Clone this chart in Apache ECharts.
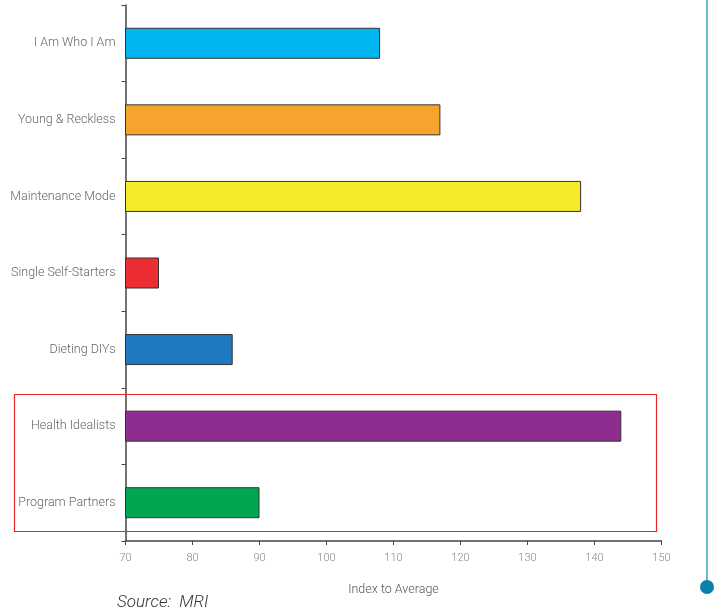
<!DOCTYPE html>
<html>
<head>
<meta charset="utf-8">
<script src="https://cdn.jsdelivr.net/npm/echarts@6/dist/echarts.min.js"></script>
<style>html,body{margin:0;padding:0;background:#fff}#c{width:721px;height:616px}</style>
</head>
<body>
<div id="c"></div>
<script>
const categories = ["I Am Who I Am", "Young & Reckless", "Maintenance Mode", "Single Self-Starters", "Dieting DIYs", "Health Idealists", "Program Partners"];
const values = [108, 117, 138, 75, 86, 144, 90];
const barColors = ["#00b5ef", "#f5a52f", "#f5eb2a", "#ec2d33", "#1f78c1", "#8e2d8f", "#00a651"];
const xTicks = { min: 70, max: 150, interval: 10 };
const axisTitle = "Index to Average";
const sourceText = "Source:  MRI";

const chart = echarts.init(document.getElementById('c'), null, { renderer: 'canvas' });
chart.setOption({
  animation: false,
  backgroundColor: '#fff',
  grid: { left: 125.5, right: 59.5, top: 5, bottom: 75, containLabel: false },
  xAxis: {
    type: 'value', min: xTicks.min, max: xTicks.max, interval: xTicks.interval,
    name: axisTitle, nameLocation: 'middle', nameGap: 42,
    nameTextStyle: { color: '#555', fontSize: 12.5, fontFamily: 'Roboto', fontWeight: 300 },
    axisLine: { show: true, lineStyle: { color: '#444', width: 1.5 } },
    axisTick: { show: true, length: 4, lineStyle: { color: '#444' } },
    axisLabel: { color: '#888', fontSize: 11, fontFamily: 'Roboto', fontWeight: 300, margin: 12 },
    splitLine: { show: false }
  },
  yAxis: {
    type: 'category', data: categories, inverse: true,
    axisLine: { show: true, lineStyle: { color: '#444', width: 1.5 } },
    axisTick: { show: true, length: 4, lineStyle: { color: '#444' } },
    axisLabel: { color: '#666', fontSize: 12.5, fontFamily: 'Roboto', fontWeight: 300, margin: 10, padding: [4, 0, 0, 0] }
  },
  series: [{
    type: 'bar', barWidth: 31,
    data: values.map((v, i) => ({ value: v, itemStyle: { color: barColors[i] } })),
    itemStyle: { borderColor: '#333', borderWidth: 1 }
  }],
  graphic: [
    { type: 'rect', shape: { x: 14.5, y: 394.5, width: 642, height: 137 },
      style: { fill: null, stroke: '#e8262a', lineWidth: 1.2 }, z: 10 },
    { type: 'line', shape: { x1: 707, y1: 0, x2: 707, y2: 584 },
      style: { stroke: '#3aa0c0', lineWidth: 1.5 } },
    { type: 'circle', shape: { cx: 707, cy: 587, r: 7 },
      style: { fill: '#0a80ab' } },
    { type: 'text', left: 117, top: 594,
      style: { text: sourceText, fill: '#333', font: 'italic 300 17px Roboto' } }
  ]
});
</script>
</body>
</html>
